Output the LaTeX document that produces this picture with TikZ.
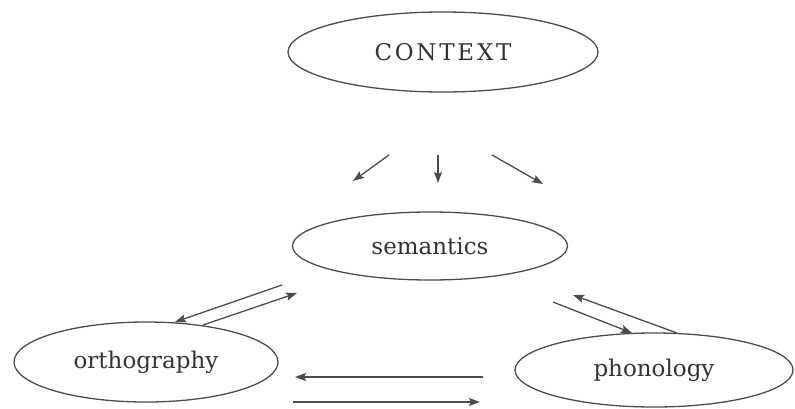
\documentclass[tikz,border=0pt]{standalone}
\usepackage{fontspec}
\setmainfont{DejaVu Serif}
\newfontfamily\ctxfont[LetterSpace=12]{DejaVu Serif}
\usetikzlibrary{shapes.geometric,arrows.meta}
\begin{document}
\begin{tikzpicture}[x=1pt,y=-1pt,
  bubble/.style={draw=black!70, line width=1.3pt, ellipse, inner sep=0pt, text=black!80, font=\fontsize{23}{28}\selectfont},
  link/.style={draw=black!70, line width=1.3pt, -{Stealth[length=11pt,width=8pt,inset=2pt]}}]
\useasboundingbox (0,0) rectangle (795,408);
\node[bubble, minimum width=310pt, minimum height=80pt] (ctx) at (443,52) {\ctxfont CONTEXT};
\node[bubble, minimum width=275pt, minimum height=68pt] (sem) at (430,246) {semantics};
\node[bubble, minimum width=264pt, minimum height=80pt] (orth) at (146,362) {orthography};
\node[bubble, minimum width=278pt, minimum height=74pt] (phon) at (654,370) {phonology};
% context arrows
\coordinate (c1a) at (389,155); \coordinate (c1b) at (353,181);
\coordinate (c2a) at (438,155); \coordinate (c2b) at (438,183);
\coordinate (c3a) at (492,155); \coordinate (c3b) at (543,184);
\draw[link] (c1a) -- (c1b);
\draw[link] (c2a) -- (c2b);
\draw[link] (c3a) -- (c3b);
% semantics - orthography
\coordinate (os1a) at (282,285); \coordinate (os1b) at (175,322);
\coordinate (os2a) at (203,325); \coordinate (os2b) at (297,293);
\draw[link] (os1a) -- (os1b);
\draw[link] (os2a) -- (os2b);
% semantics - phonology
\coordinate (sp1a) at (677,333); \coordinate (sp1b) at (573,295);
\coordinate (sp2a) at (553,302); \coordinate (sp2b) at (632,333);
\draw[link] (sp1a) -- (sp1b);
\draw[link] (sp2a) -- (sp2b);
% orthography - phonology
\coordinate (op1a) at (483,377); \coordinate (op1b) at (295,377);
\coordinate (op2a) at (293,402); \coordinate (op2b) at (480,402);
\draw[link] (op1a) -- (op1b);
\draw[link] (op2a) -- (op2b);
\end{tikzpicture}
\end{document}
